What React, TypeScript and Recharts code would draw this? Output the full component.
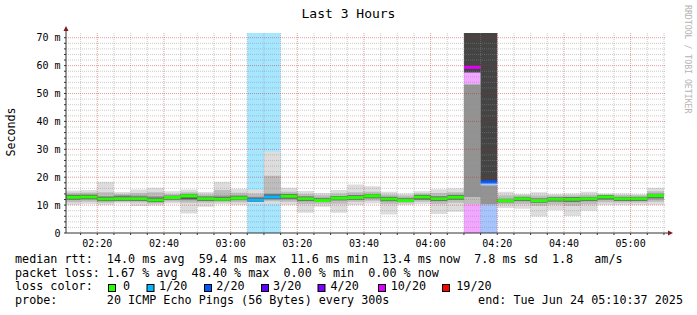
import React from 'react';
import { ComposedChart, Area, XAxis, YAxis, CartesianGrid } from 'recharts';

// ---------- data ----------
const binStarts = [
  '02:10', '02:15', '02:20', '02:25', '02:30', '02:35', '02:40', '02:45', '02:50', '02:55',
  '03:00', '03:05', '03:10', '03:15', '03:20', '03:25', '03:30', '03:35', '03:40', '03:45',
  '03:50', '03:55', '04:00', '04:05', '04:10', '04:15', '04:20', '04:25', '04:30', '04:35',
  '04:40', '04:45', '04:50', '04:55', '05:00', '05:05',
];
const medianRtt = [
  12.8, 12.9, 12.2, 12.3, 12.3, 11.8, 12.7, 13.3, 12.3, 12.1,
  12.5, 11.8, 12.9, 13.2, 12.3, 11.7, 12.5, 12.7, 13.3, 12.2,
  11.7, 12.9, 12.3, 12.8, 59.4, 18.3, 11.6, 12.3, 11.6, 12.1,
  12.1, 12.3, 12.9, 12.3, 12.3, 13.4,
];
const minRtt = [
  10.0, 10.4, 10.0, 10.6, 9.7, 9.9, 10.6, 7.0, 9.4, 10.3,
  10.0, 10.7, 10.6, 10.0, 7.3, 9.4, 7.3, 10.0, 10.6, 6.6,
  10.0, 10.4, 6.8, 7.6, 10.4, 10.3, 9.0, 8.7, 5.9, 8.2,
  6.1, 8.0, 10.0, 10.0, 10.0, 10.0,
];
const maxRtt = [
  15.2, 15.4, 18.4, 14.7, 15.6, 16.2, 15.0, 15.6, 14.7, 18.4,
  15.9, 15.4, 29.1, 16.2, 15.1, 14.3, 15.4, 17.4, 16.8, 14.8,
  14.2, 15.0, 15.7, 16.0, 53.2, 17.0, 14.8, 14.0, 14.6, 14.0,
  14.2, 14.8, 14.2, 14.2, 13.9, 16.2,
];
const p10 = [
  11.0, 11.2, 10.8, 11.2, 10.9, 10.6, 11.3, 10.8, 10.8, 11.0,
  11.0, 11.2, 11.4, 11.2, 10.4, 10.5, 10.5, 11.2, 11.6, 10.4,
  10.7, 11.2, 10.4, 10.8, 10.4, 10.3, 10.3, 10.4, 9.8, 10.2,
  9.8, 10.3, 11.0, 10.9, 10.9, 11.2,
];
const p90 = [
  14.4, 14.5, 14.6, 14.0, 14.3, 14.6, 14.0, 14.6, 13.9, 15.4,
  14.4, 14.2, 20.5, 14.8, 14.0, 13.5, 14.2, 14.6, 14.8, 13.8,
  13.4, 14.2, 14.3, 14.6, 53.2, 17.0, 13.5, 13.5, 13.4, 13.4,
  13.5, 13.7, 13.8, 13.6, 13.5, 15.0,
];
const p25 = [
  11.8, 11.9, 11.4, 11.7, 11.5, 11.0, 11.9, 11.7, 11.5, 11.5,
  11.7, 11.2, 11.9, 12.0, 11.4, 11.1, 11.6, 11.8, 12.3, 11.3,
  11.1, 11.8, 11.4, 11.8, 12.9, 10.3, 11.0, 11.4, 10.8, 11.2,
  11.0, 11.4, 11.8, 11.5, 11.5, 12.0,
];
const p75 = [
  13.8, 13.9, 13.3, 13.5, 13.4, 13.2, 13.5, 14.0, 13.2, 13.4,
  13.5, 13.0, 14.2, 14.0, 13.2, 12.6, 13.3, 13.6, 14.0, 13.1,
  12.6, 13.7, 13.3, 13.7, 53.2, 17.0, 12.4, 13.0, 12.5, 12.8,
  12.9, 13.0, 13.5, 13.0, 13.0, 14.2,
];
const p40 = [
  12.0, 12.2, 11.5, 11.6, 11.6, 11.1, 12.0, 12.1, 11.6, 11.5,
  11.8, 11.3, 12.2, 12.4, 11.6, 11.1, 11.8, 12.0, 12.6, 11.5,
  11.1, 12.0, 11.6, 12.0, null, null, 11.0, 11.6, 10.9, 11.4,
  11.3, 11.6, 12.1, 11.6, 11.6, 12.6,
];
const p60 = [
  13.5, 13.6, 12.9, 13.1, 13.0, 12.6, 13.3, 13.9, 13.0, 12.8,
  13.2, 12.6, 13.8, 13.9, 13.0, 12.4, 13.2, 13.4, 13.9, 12.9,
  12.4, 13.6, 13.0, 13.5, null, null, 12.2, 12.9, 12.3, 12.7,
  12.8, 12.9, 13.5, 12.9, 12.9, 14.0,
];
// second cluster of pings above the gap in the loss bins (runs off the top)
const upperLow = [
  null, null, null, null, null, null, null, null, null, null,
  null, null, null, null, null, null, null, null, null, null,
  null, null, null, null, 57.5, 18.6, null, null, null, null,
  null, null, null, null, null, null,
];
const upperHigh = [
  null, null, null, null, null, null, null, null, null, null,
  null, null, null, null, null, null, null, null, null, null,
  null, null, null, null, 80, 80, null, null, null, null,
  null, null, null, null, null, null,
];
const lostPings = [
  0, 0, 0, 0, 0, 0, 0, 0, 0, 0,
  0, 1, 1, 0, 0, 0, 0, 0, 0, 0,
  0, 0, 0, 0, 10, 2, 0, 0, 0, 0,
  0, 0, 0, 0, 0, 0,
];
const lossThresholds = [0, 1, 2, 3, 4, 10, 19];
const lossLabels = ['0', '1/20', '2/20', '3/20', '4/20', '10/20', '19/20'];
const lossColors = ['#26ff00', '#00b8ff', '#0059ff', '#5e00ff', '#7e00ff', '#dd00ff', '#ff0000'];

const xTickLabels = ['02:20', '02:40', '03:00', '03:20', '03:40', '04:00', '04:20', '04:40', '05:00'];
const yTickValues = [0, 10, 20, 30, 40, 50, 60, 70];
const yTickLabels = ['0', '10 m', '20 m', '30 m', '40 m', '50 m', '60 m', '70 m'];

const title = 'Last 3 Hours';
const yLabel = 'Seconds';
const statsRtt = 'median rtt:  14.0 ms avg  59.4 ms max  11.6 ms min  13.4 ms now  7.8 ms sd  1.8   am/s';
const statsLoss = 'packet loss: 1.67 % avg  48.40 % max  0.00 % min  0.00 % now';
const probeText = 'probe:       20 ICMP Echo Pings (56 Bytes) every 300s';
const endText = 'end: Tue Jun 24 05:10:37 2025';
const watermark = 'RRDTOOL / TOBI OETIKER';
const rangeStart = '02:10:37';
const rangeEnd = '05:10:37';
const stepMinutes = 5;

// ---------- helpers ----------
const toMin = (s: string) => {
  const p = s.split(':').map(Number);
  return p[0] * 60 + p[1] + (p[2] || 0) / 60;
};
const levelOf = (lost: number) => {
  let k = 0;
  lossThresholds.forEach((t, i) => { if (lost >= t) k = i; });
  return k;
};

const X0 = toMin(rangeStart);
const X1 = toMin(rangeEnd);
const Y_TOP = 71.7;
const MED_HALF = 0.55;
const FONT = '"DejaVu Sans Mono", monospace';

type Row = { t: number; i: number };
const rows: Row[] = [];
binStarts.forEach((s, i) => {
  const t0 = toMin(s);
  rows.push({ t: t0, i }, { t: t0 + stepMinutes, i });
});

const range = (lo: (number | null)[], hi: (number | null)[]) => (r: Row) =>
  lo[r.i] == null || hi[r.i] == null ? null : [lo[r.i], hi[r.i]];

const xMinor: number[] = [];
for (let m = Math.ceil(X0 / 5) * 5; m <= X1; m += 5) xMinor.push(m);
const xMajor = xTickLabels.map(toMin);
const yMinor: number[] = [];
for (let v = 2; v < Y_TOP; v += 2) if (v % 10 !== 0) yMinor.push(v);
const yAll: number[] = [];
for (let v = 0; v < Y_TOP; v += 2) yAll.push(v);

const fmtX = (v: number) => {
  const k = xMajor.indexOf(v);
  return k >= 0 ? xTickLabels[k] : '';
};
const fmtY = (v: number) => {
  const k = yTickValues.indexOf(v);
  return k >= 0 ? yTickLabels[k] : '';
};

const smoke = [
  { lo: minRtt, hi: maxRtt, color: '#dddddd' },
  { lo: p10, hi: p90, color: '#bdbdbd' },
  { lo: p25, hi: p75, color: '#939393' },
  { lo: p40, hi: p60, color: '#585858' },
  { lo: upperLow, hi: upperHigh, color: '#444444' },
];

const legendBoxX = [108.5, 147, 204.5, 261.5, 318, 378.5, 442.5];
const legendTextX = [123, 159, 216.3, 273, 330.5, 390.7, 456.3];

export default function App() {
  return (
    <div style={{ position: 'absolute', left: 0, top: 0, width: 697, height: 315, background: '#ffffff' }}>
      <ComposedChart
        width={697}
        height={315}
        data={rows}
        margin={{ top: 33, right: 31, bottom: 52, left: 0 }}
      >
        <XAxis
          dataKey="t"
          type="number"
          domain={[X0, X1]}
          allowDataOverflow
          ticks={xMinor}
          interval={0}
          tickFormatter={fmtX}
          height={30}
          tickSize={2}
          tickMargin={4.5}
          stroke="#333333"
          tick={{ fontFamily: FONT, fontSize: 10, fill: '#000000' }}
        />
        <YAxis
          type="number"
          domain={[0, Y_TOP]}
          allowDataOverflow
          ticks={yAll}
          interval={0}
          tickFormatter={fmtY}
          width={66}
          tickSize={2}
          tickMargin={3.5}
          stroke="#333333"
          tick={{ fontFamily: FONT, fontSize: 10, fill: '#000000' }}
        />
        {lossThresholds.map((_, k) =>
          k === 0 ? null : (
            <Area
              key={'bg' + k}
              dataKey={(r: Row) => (levelOf(lostPings[r.i]) === k ? [0, Y_TOP] : null)}
              type="linear"
              stroke="none"
              fill={lossColors[k]}
              fillOpacity={0.35}
              isAnimationActive={false}
              dot={false}
              activeDot={false}
            />
          )
        )}
        {smoke.map((b, k) => (
          <Area
            key={'smoke' + k}
            dataKey={range(b.lo, b.hi)}
            type="linear"
            stroke="none"
            fill={b.color}
            fillOpacity={1}
            isAnimationActive={false}
            dot={false}
            activeDot={false}
          />
        ))}
        {lossThresholds.map((_, k) => (
          <Area
            key={'med' + k}
            dataKey={(r: Row) =>
              levelOf(lostPings[r.i]) === k ? [medianRtt[r.i] - MED_HALF, medianRtt[r.i] + MED_HALF] : null
            }
            type="linear"
            stroke="none"
            fill={lossColors[k]}
            fillOpacity={1}
            isAnimationActive={false}
            dot={false}
            activeDot={false}
          />
        ))}
        <CartesianGrid
          horizontalValues={yMinor}
          verticalValues={xMinor.filter((v) => xMajor.indexOf(v) < 0)}
          stroke="rgba(140,140,140,0.45)"
          strokeDasharray="1 1"
          zIndex={900}
        />
        <CartesianGrid
          horizontalValues={yTickValues.filter((v) => v > 0)}
          verticalValues={xMajor}
          stroke="rgba(190,40,40,0.45)"
          strokeDasharray="1 1"
          zIndex={901}
        />
      </ComposedChart>
      <svg
        width={697}
        height={315}
        style={{ position: 'absolute', left: 0, top: 0, pointerEvents: 'none' }}
        fontFamily={FONT}
      >
        <line x1={66} y1={33} x2={66} y2={29} stroke="#333333" />
        <polygon points="63.5,31 68.5,31 66,26" fill="#801a1a" />
        <line x1={666} y1={233} x2={669} y2={233} stroke="#333333" />
        <polygon points="668,230.5 668,235.5 673,233" fill="#801a1a" />
        <text x={348.5} y={18.3} fontSize={13} textAnchor="middle" fill="#000">{title}</text>
        <text x={15.2} y={132} fontSize={11.7} textAnchor="middle" fill="#000" transform="rotate(-90 15.2 132)">
          {yLabel}
        </text>
        <text x={685} y={5} fontSize={8.2} fill="#b4b4b4" transform="rotate(90 685 5)">{watermark}</text>
        <text x={15} y={263.3} fontSize={11.74} fill="#000" style={{ whiteSpace: 'pre' }}>{statsRtt}</text>
        <text x={15} y={276.8} fontSize={11.74} fill="#000" style={{ whiteSpace: 'pre' }}>{statsLoss}</text>
        <text x={15} y={290.3} fontSize={11.74} fill="#000" style={{ whiteSpace: 'pre' }}>loss color:</text>
        {lossLabels.map((l, k) => (
          <g key={l}>
            <rect x={legendBoxX[k]} y={284.5} width={7} height={7} fill={lossColors[k]} stroke="#000" strokeWidth={1} />
            <text x={legendTextX[k]} y={290.3} fontSize={11.74} fill="#000">{l}</text>
          </g>
        ))}
        <text x={15} y={303.5} fontSize={11.74} fill="#000" style={{ whiteSpace: 'pre' }}>{probeText}</text>
        <text x={683} y={303.5} fontSize={11.74} fill="#000" textAnchor="end">{endText}</text>
      </svg>
    </div>
  );
}
